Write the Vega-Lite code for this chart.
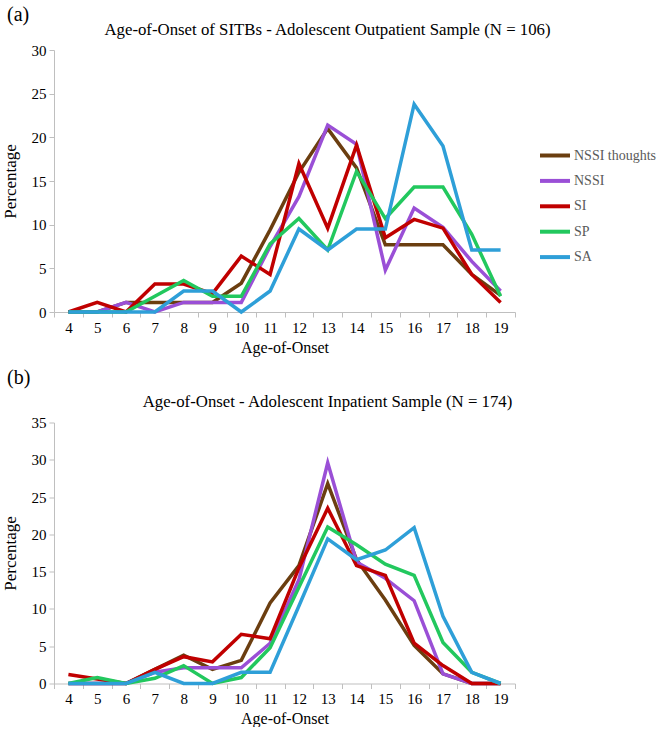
{
  "$schema": "https://vega.github.io/schema/vega-lite/v6.json",
  "background": "white",
  "padding": {"left": 1, "top": 5, "right": 0, "bottom": 0},
  "datasets": {
    "a": [
      {"age":4,"series":"NSSI thoughts","pct":0},{"age":5,"series":"NSSI thoughts","pct":0},{"age":6,"series":"NSSI thoughts","pct":1.1},{"age":7,"series":"NSSI thoughts","pct":1.1},{"age":8,"series":"NSSI thoughts","pct":1.1},{"age":9,"series":"NSSI thoughts","pct":1.1},{"age":10,"series":"NSSI thoughts","pct":3.3},{"age":11,"series":"NSSI thoughts","pct":9.4},{"age":12,"series":"NSSI thoughts","pct":16.0},{"age":13,"series":"NSSI thoughts","pct":21.0},{"age":14,"series":"NSSI thoughts","pct":16.5},{"age":15,"series":"NSSI thoughts","pct":7.7},{"age":16,"series":"NSSI thoughts","pct":7.7},{"age":17,"series":"NSSI thoughts","pct":7.7},{"age":18,"series":"NSSI thoughts","pct":4.3},{"age":19,"series":"NSSI thoughts","pct":1.9},
      {"age":4,"series":"NSSI","pct":0},{"age":5,"series":"NSSI","pct":0},{"age":6,"series":"NSSI","pct":1.1},{"age":7,"series":"NSSI","pct":0},{"age":8,"series":"NSSI","pct":1.1},{"age":9,"series":"NSSI","pct":1.1},{"age":10,"series":"NSSI","pct":1.1},{"age":11,"series":"NSSI","pct":7.5},{"age":12,"series":"NSSI","pct":13.2},{"age":13,"series":"NSSI","pct":21.4},{"age":14,"series":"NSSI","pct":19.2},{"age":15,"series":"NSSI","pct":4.8},{"age":16,"series":"NSSI","pct":11.9},{"age":17,"series":"NSSI","pct":9.7},{"age":18,"series":"NSSI","pct":5.8},{"age":19,"series":"NSSI","pct":2.4},
      {"age":4,"series":"SI","pct":0},{"age":5,"series":"SI","pct":1.1},{"age":6,"series":"SI","pct":0},{"age":7,"series":"SI","pct":3.2},{"age":8,"series":"SI","pct":3.2},{"age":9,"series":"SI","pct":2.1},{"age":10,"series":"SI","pct":6.4},{"age":11,"series":"SI","pct":4.3},{"age":12,"series":"SI","pct":17.0},{"age":13,"series":"SI","pct":9.6},{"age":14,"series":"SI","pct":19.1},{"age":15,"series":"SI","pct":8.5},{"age":16,"series":"SI","pct":10.6},{"age":17,"series":"SI","pct":9.6},{"age":18,"series":"SI","pct":4.3},{"age":19,"series":"SI","pct":1.1},
      {"age":4,"series":"SP","pct":0},{"age":5,"series":"SP","pct":0},{"age":6,"series":"SP","pct":0},{"age":7,"series":"SP","pct":1.8},{"age":8,"series":"SP","pct":3.6},{"age":9,"series":"SP","pct":1.8},{"age":10,"series":"SP","pct":1.8},{"age":11,"series":"SP","pct":7.8},{"age":12,"series":"SP","pct":10.7},{"age":13,"series":"SP","pct":7.1},{"age":14,"series":"SP","pct":16.1},{"age":15,"series":"SP","pct":10.7},{"age":16,"series":"SP","pct":14.3},{"age":17,"series":"SP","pct":14.3},{"age":18,"series":"SP","pct":8.9},{"age":19,"series":"SP","pct":1.8},
      {"age":4,"series":"SA","pct":0},{"age":5,"series":"SA","pct":0},{"age":6,"series":"SA","pct":0},{"age":7,"series":"SA","pct":0},{"age":8,"series":"SA","pct":2.4},{"age":9,"series":"SA","pct":2.4},{"age":10,"series":"SA","pct":0},{"age":11,"series":"SA","pct":2.4},{"age":12,"series":"SA","pct":9.5},{"age":13,"series":"SA","pct":7.1},{"age":14,"series":"SA","pct":9.5},{"age":15,"series":"SA","pct":9.5},{"age":16,"series":"SA","pct":23.8},{"age":17,"series":"SA","pct":19.0},{"age":18,"series":"SA","pct":7.1},{"age":19,"series":"SA","pct":7.1}
    ],
    "b": [
      {"age":4,"series":"NSSI thoughts","pct":0},{"age":5,"series":"NSSI thoughts","pct":0},{"age":6,"series":"NSSI thoughts","pct":0},{"age":7,"series":"NSSI thoughts","pct":1.9},{"age":8,"series":"NSSI thoughts","pct":3.8},{"age":9,"series":"NSSI thoughts","pct":1.9},{"age":10,"series":"NSSI thoughts","pct":3.1},{"age":11,"series":"NSSI thoughts","pct":10.8},{"age":12,"series":"NSSI thoughts","pct":15.8},{"age":13,"series":"NSSI thoughts","pct":26.8},{"age":14,"series":"NSSI thoughts","pct":16.6},{"age":15,"series":"NSSI thoughts","pct":11.2},{"age":16,"series":"NSSI thoughts","pct":5.1},{"age":17,"series":"NSSI thoughts","pct":1.3},{"age":18,"series":"NSSI thoughts","pct":0},{"age":19,"series":"NSSI thoughts","pct":0},
      {"age":4,"series":"NSSI","pct":0},{"age":5,"series":"NSSI","pct":0},{"age":6,"series":"NSSI","pct":0},{"age":7,"series":"NSSI","pct":1.5},{"age":8,"series":"NSSI","pct":2.1},{"age":9,"series":"NSSI","pct":2.1},{"age":10,"series":"NSSI","pct":2.1},{"age":11,"series":"NSSI","pct":5.4},{"age":12,"series":"NSSI","pct":13.9},{"age":13,"series":"NSSI","pct":29.6},{"age":14,"series":"NSSI","pct":16.3},{"age":15,"series":"NSSI","pct":14.1},{"age":16,"series":"NSSI","pct":11.1},{"age":17,"series":"NSSI","pct":1.3},{"age":18,"series":"NSSI","pct":0},{"age":19,"series":"NSSI","pct":0},
      {"age":4,"series":"SI","pct":1.2},{"age":5,"series":"SI","pct":0.6},{"age":6,"series":"SI","pct":0},{"age":7,"series":"SI","pct":1.9},{"age":8,"series":"SI","pct":3.6},{"age":9,"series":"SI","pct":2.9},{"age":10,"series":"SI","pct":6.6},{"age":11,"series":"SI","pct":6.0},{"age":12,"series":"SI","pct":15.5},{"age":13,"series":"SI","pct":23.5},{"age":14,"series":"SI","pct":15.8},{"age":15,"series":"SI","pct":14.5},{"age":16,"series":"SI","pct":5.4},{"age":17,"series":"SI","pct":2.4},{"age":18,"series":"SI","pct":0},{"age":19,"series":"SI","pct":0},
      {"age":4,"series":"SP","pct":0},{"age":5,"series":"SP","pct":0.8},{"age":6,"series":"SP","pct":0},{"age":7,"series":"SP","pct":0.7},{"age":8,"series":"SP","pct":2.4},{"age":9,"series":"SP","pct":0},{"age":10,"series":"SP","pct":0.8},{"age":11,"series":"SP","pct":4.8},{"age":12,"series":"SP","pct":12.9},{"age":13,"series":"SP","pct":21.0},{"age":14,"series":"SP","pct":18.6},{"age":15,"series":"SP","pct":16.0},{"age":16,"series":"SP","pct":14.5},{"age":17,"series":"SP","pct":5.5},{"age":18,"series":"SP","pct":1.5},{"age":19,"series":"SP","pct":0},
      {"age":4,"series":"SA","pct":0},{"age":5,"series":"SA","pct":0},{"age":6,"series":"SA","pct":0},{"age":7,"series":"SA","pct":1.5},{"age":8,"series":"SA","pct":0},{"age":9,"series":"SA","pct":0},{"age":10,"series":"SA","pct":1.5},{"age":11,"series":"SA","pct":1.5},{"age":12,"series":"SA","pct":10.4},{"age":13,"series":"SA","pct":19.4},{"age":14,"series":"SA","pct":16.6},{"age":15,"series":"SA","pct":17.9},{"age":16,"series":"SA","pct":20.9},{"age":17,"series":"SA","pct":9.0},{"age":18,"series":"SA","pct":1.5},{"age":19,"series":"SA","pct":0}
    ]
  },
  "config": {
    "view": {"stroke": null},
    "font": "'Liberation Serif', 'Times New Roman', serif",
    "concat": {"spacing": 12.5},
    "axis": {
      "grid": false,
      "domainColor": "#bfbfbf",
      "tickColor": "#bfbfbf",
      "tickSize": 5,
      "labelFont": "'Liberation Serif', 'Times New Roman', serif",
      "labelFontSize": 15,
      "labelColor": "#000000",
      "titleFont": "'Liberation Serif', 'Times New Roman', serif",
      "titleFontSize": 16,
      "titleFontWeight": "normal",
      "titleColor": "#000000"
    },
    "legend": {
      "orient": "none",
      "legendX": 484,
      "symbolType": "stroke",
      "symbolSize": 900,
      "symbolStrokeWidth": 4,
      "labelFont": "'Liberation Serif', 'Times New Roman', serif",
      "labelFontSize": 14,
      "labelColor": "#595959",
      "labelOffset": 2,
      "rowPadding": 0.4,
      "labelLimit": 200
    },
    "title": {"font": "'Liberation Serif', 'Times New Roman', serif", "fontWeight": "normal", "color": "#000000"}
  },
  "vconcat": [
    {
      "title": {"text": "(a)", "anchor": "start", "fontSize": 20, "frame": "group", "dx": -47, "offset": -3},
      "vconcat": [
        {
          "width": 461,
          "height": 262,
          "data": {"name": "a"},
          "title": {"text": "Age-of-Onset of SITBs - Adolescent Outpatient Sample (N = 106)", "fontSize": 16.8, "anchor": "middle", "frame": "group", "dx": 43, "offset": 4},
          "mark": {"type": "line", "strokeWidth": 3.5},
          "encoding": {
            "x": {"field": "age", "type": "ordinal", "scale": {"type": "band", "paddingInner": 0, "paddingOuter": 0}, "bandPosition": 0.5,
                  "axis": {"labelAngle": 0, "tickBand": "extent", "labelPadding": 3, "titlePadding": 4, "title": "Age-of-Onset"}},
            "y": {"field": "pct", "type": "quantitative", "scale": {"domain": [0, 30]},
                  "axis": {"values": [0, 5, 10, 15, 20, 25, 30], "labelPadding": 3, "title": "Percentage", "titlePadding": 12, "titleFontSize": 17}},
            "color": {"field": "series", "type": "nominal",
                      "scale": {"domain": ["NSSI thoughts", "NSSI", "SI", "SP", "SA"], "range": ["#6b3e10", "#9a4fd6", "#c00000", "#22c85e", "#2e9fd8"]},
                      "legend": {"title": null, "legendY": 88.5}},
            "order": {"field": "age", "type": "quantitative"}
          }
        }
      ]
    },
    {
      "title": {"text": "(b)", "anchor": "start", "fontSize": 20, "frame": "group", "dx": -47, "offset": 6},
      "vconcat": [
        {
          "width": 461,
          "height": 261,
          "data": {"name": "b"},
          "title": {"text": "Age-of-Onset - Adolescent Inpatient Sample (N = 174)", "fontSize": 16.8, "anchor": "middle", "frame": "group", "dx": 43, "offset": 4.5},
          "mark": {"type": "line", "strokeWidth": 3.5},
          "encoding": {
            "x": {"field": "age", "type": "ordinal", "scale": {"type": "band", "paddingInner": 0, "paddingOuter": 0}, "bandPosition": 0.5,
                  "axis": {"labelAngle": 0, "tickBand": "extent", "labelPadding": 3, "titlePadding": 4, "title": "Age-of-Onset"}},
            "y": {"field": "pct", "type": "quantitative", "scale": {"domain": [0, 35]},
                  "axis": {"values": [0, 5, 10, 15, 20, 25, 30, 35], "labelPadding": 3, "title": "Percentage", "titlePadding": 12, "titleFontSize": 17}},
            "color": {"field": "series", "type": "nominal",
                      "scale": {"domain": ["NSSI thoughts", "NSSI", "SI", "SP", "SA"], "range": ["#6b3e10", "#9a4fd6", "#c00000", "#22c85e", "#2e9fd8"]},
                      "legend": {"title": null, "legendY": 89.5}},
            "order": {"field": "age", "type": "quantitative"}
          }
        }
      ]
    }
  ]
}
